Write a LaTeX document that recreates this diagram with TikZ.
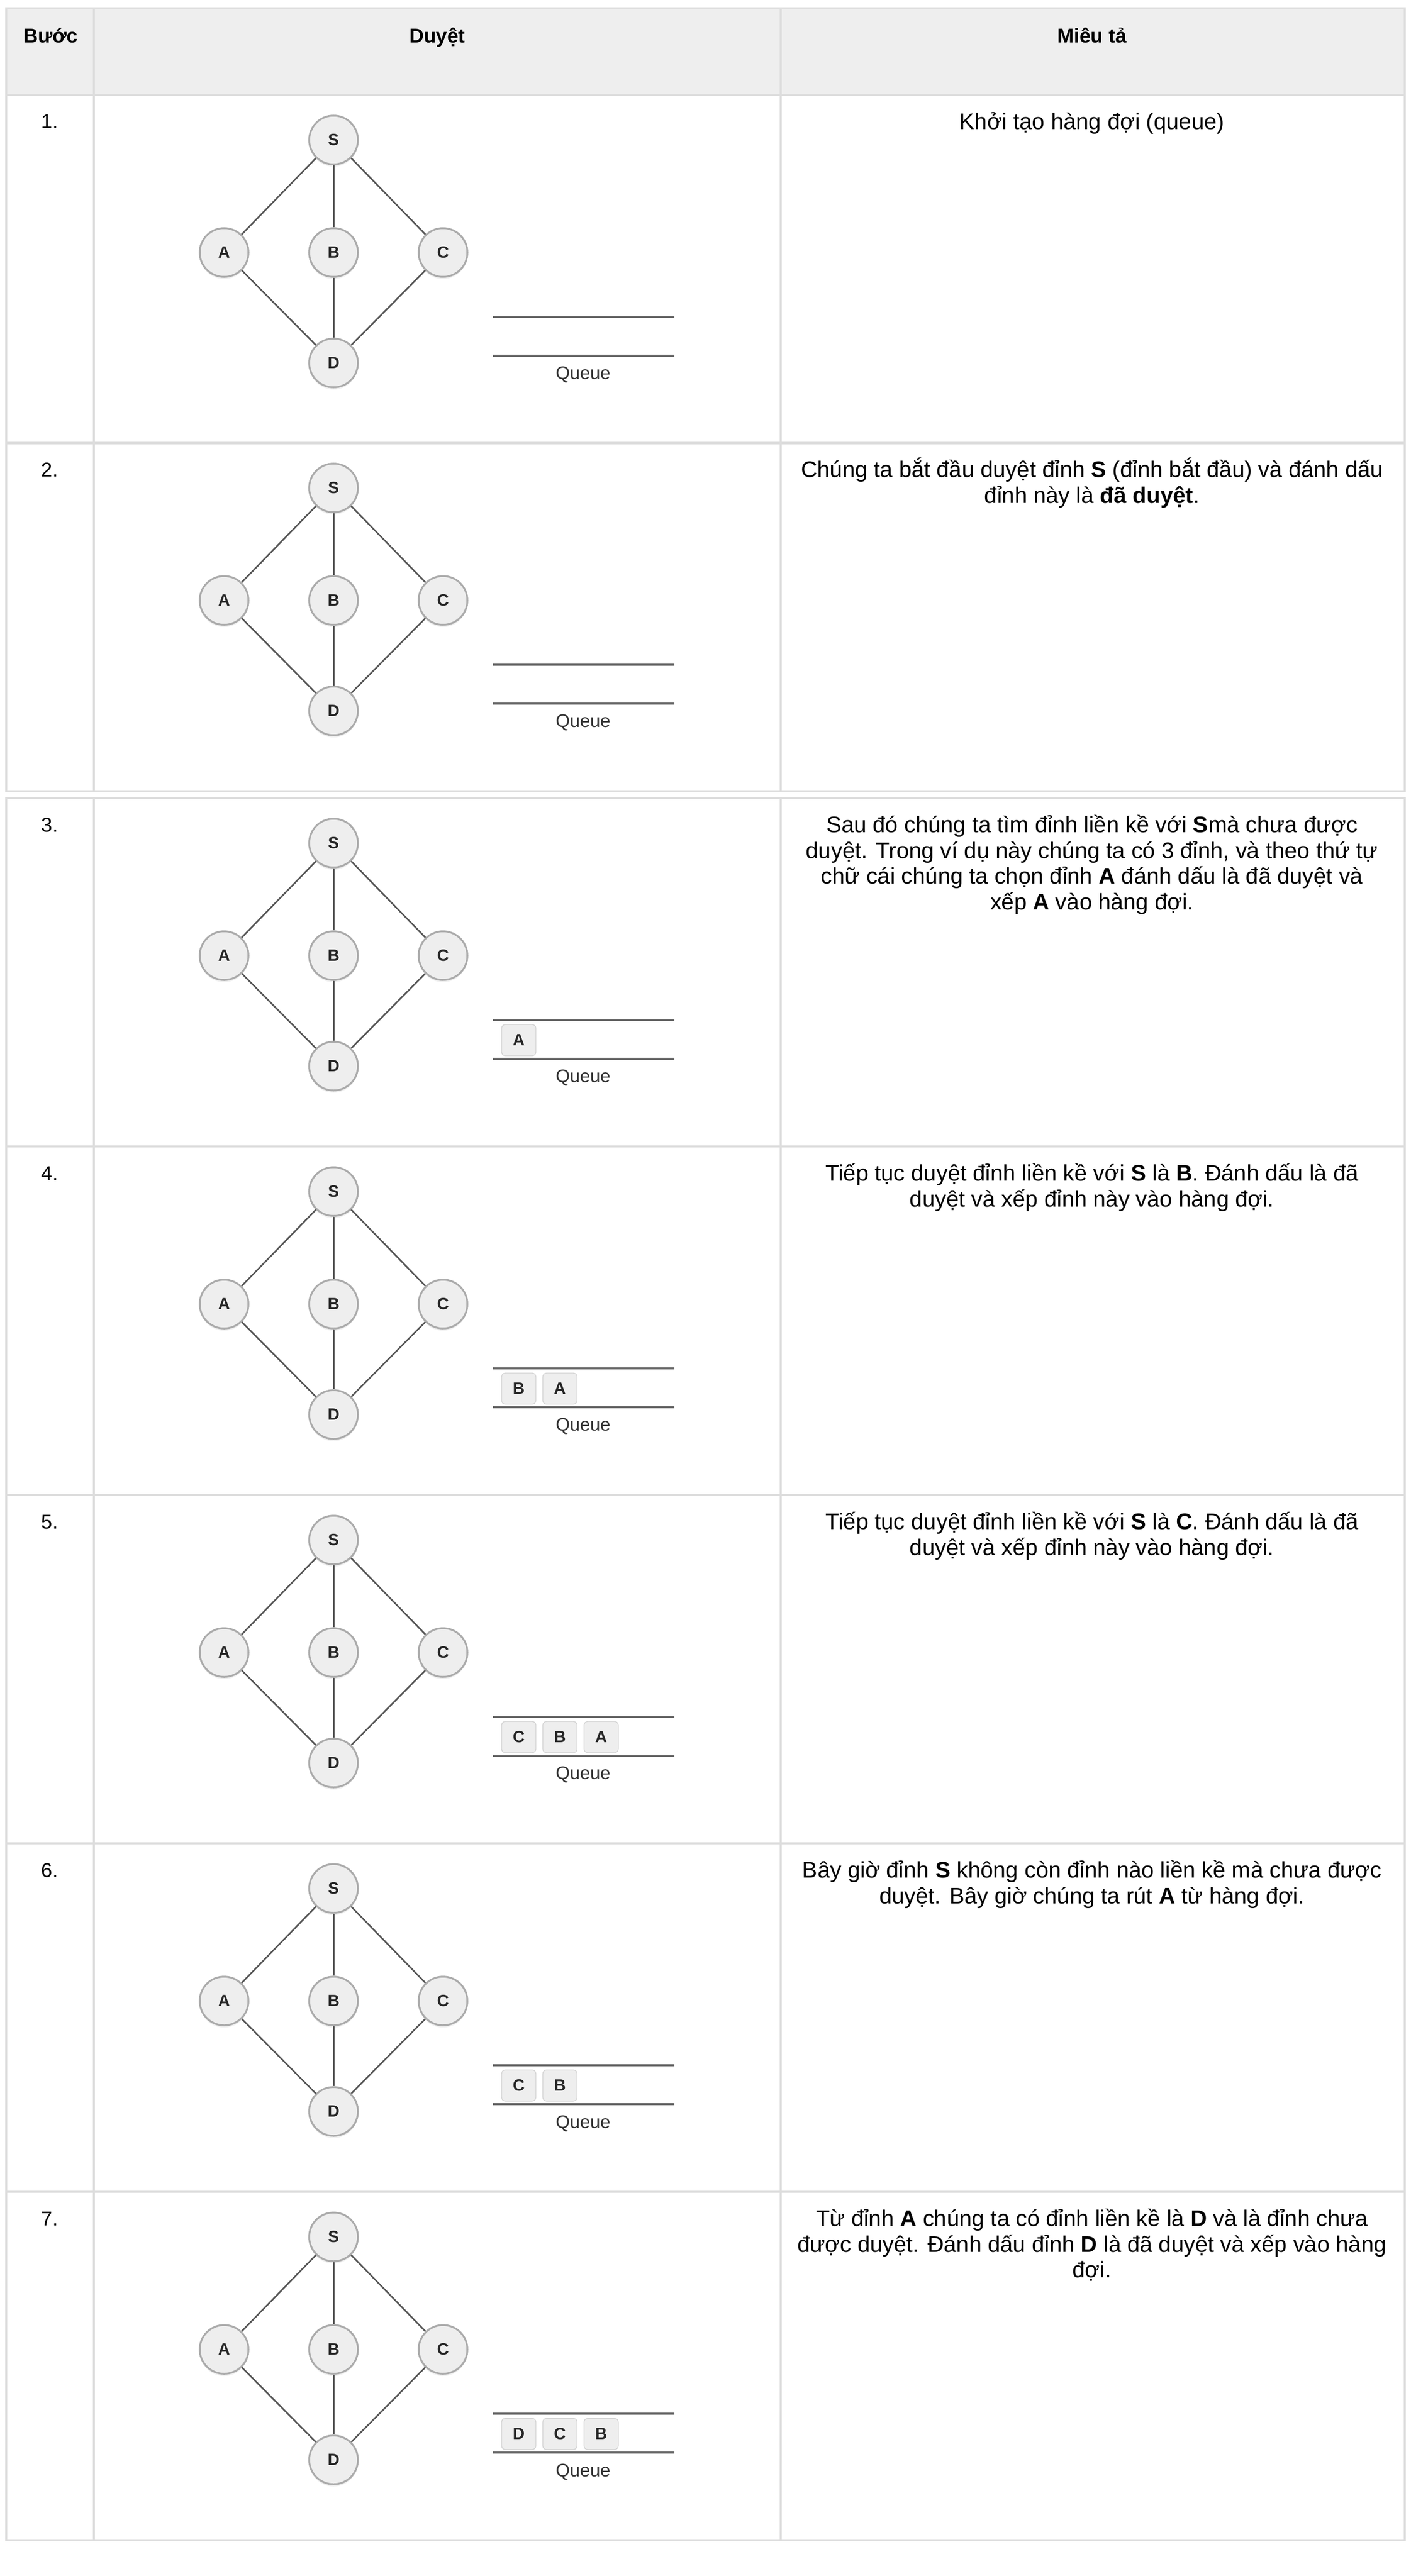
\documentclass[tikz,border=0pt]{standalone}
\usepackage{fontspec}
\setmainfont{Liberation Sans}
\usetikzlibrary{positioning, shadows}

\definecolor{gridgray}{HTML}{DDDDDD}
\definecolor{headgray}{HTML}{EEEEEE}
\definecolor{vertfill}{HTML}{EEEEEE}
\definecolor{vertline}{HTML}{ABABAB}
\definecolor{linkgray}{HTML}{555555}
\definecolor{boxline}{HTML}{D2D2D2}

\newcommand{\topstrut}{\rule{0pt}{12.5pt}}

\begin{document}
\begin{tikzpicture}[x=1cm, y=-1cm,
  cell/.style={draw=gridgray, line width=1pt},
  vert/.style={circle, draw=vertline, line width=1pt, fill=vertfill, minimum size=0.94cm, inner sep=0pt,
    font=\fontsize{9}{10}\selectfont\bfseries, text=black!85,
    drop shadow={opacity=0.12, shadow xshift=0pt, shadow yshift=-1.2pt}},
  link/.style={draw=linkgray, line width=0.85pt},
  qline/.style={draw=black!60, line width=1.1pt},
  qbox/.style={draw=boxline, fill=vertfill, rounded corners=2pt, minimum width=0.66cm, minimum height=0.60cm,
    inner sep=0pt, font=\fontsize{9}{10}\selectfont\bfseries, text=black!85},
  qtext/.style={font=\fontsize{10}{12}\selectfont, text=black!80},
  headtext/.style={font=\fontsize{11}{13}\selectfont\bfseries, anchor=base},
  stepnum/.style={font=\fontsize{11}{13}\selectfont, anchor=base},
  desc/.style={font=\fontsize{12.4}{14.1}\selectfont, align=center, anchor=north, inner sep=0pt}]

\fill[white] (0,0) rectangle (27.2,49.68);
\useasboundingbox (0,0) rectangle (27.2,49.68);

% header
\draw[cell, fill=headgray] (0.12,0.16) rectangle (1.81,1.83);
\draw[cell, fill=headgray] (1.81,0.16) rectangle (15.05,1.83);
\draw[cell, fill=headgray] (15.05,0.16) rectangle (27.08,1.83);
\node[headtext] (hstep) at (0.98,0.83) {Bước};
\node[headtext] (hwalk) at (8.43,0.83) {Duyệt};
\node[headtext] (hdesc) at (21.05,0.83) {Miêu tả};

% rows: cells, graph, empty queue
\foreach \r/\t in {1/1.83, 2/8.54, 3/15.39, 4/22.11, 5/28.83, 6/35.55, 7/42.27} {
  \draw[cell] (0.12,\t) rectangle (1.81,\t+6.72);
  \draw[cell] (1.81,\t) rectangle (15.05,\t+6.72);
  \draw[cell] (15.05,\t) rectangle (27.08,\t+6.72);
  \node[stepnum] (n\r) at (0.96,\t+0.65) {\r.};

  \node[vert] (S\r) at (6.43,\t+0.87) {S};
  \node[vert] (A\r) at (4.32,\t+3.04) {A};
  \node[vert] (B\r) at (6.43,\t+3.04) {B};
  \node[vert] (C\r) at (8.54,\t+3.04) {C};
  \node[vert] (D\r) at (6.43,\t+5.17) {D};
  \draw[link] (S\r) -- (A\r);
  \draw[link] (S\r) -- (B\r);
  \draw[link] (S\r) -- (C\r);
  \draw[link] (A\r) -- (D\r);
  \draw[link] (B\r) -- (D\r);
  \draw[link] (C\r) -- (D\r);

  \coordinate (qtl\r) at (9.50,\t+4.28);
  \coordinate (qtr\r) at (13.00,\t+4.28);
  \coordinate (qbl\r) at (9.50,\t+5.03);
  \coordinate (qbr\r) at (13.00,\t+5.03);
  \draw[qline] (qtl\r) -- (qtr\r);
  \draw[qline] (qbl\r) -- (qbr\r);
  \node[qtext] (ql\r) at (11.24,\t+5.40) {Queue};
}

% queue contents
\node[qbox] (q3a) at (10.00,15.39+4.67) {A};

\node[qbox] (q4b) at (10.00,22.11+4.67) {B};
\node[qbox, right=0.12cm of q4b] (q4a) {A};

\node[qbox] (q5c) at (10.00,28.83+4.67) {C};
\node[qbox, right=0.12cm of q5c] (q5b) {B};
\node[qbox, right=0.12cm of q5b] (q5a) {A};

\node[qbox] (q6c) at (10.00,35.55+4.67) {C};
\node[qbox, right=0.12cm of q6c] (q6b) {B};

\node[qbox] (q7d) at (10.00,42.27+4.67) {D};
\node[qbox, right=0.12cm of q7d] (q7c) {C};
\node[qbox, right=0.12cm of q7c] (q7b) {B};

% descriptions
\node[desc] (d1) at (21.05,1.83+0.22) {\topstrut Khởi tạo hàng đợi (queue)};
\node[desc] (d2) at (21.05,8.54+0.22) {\topstrut Chúng ta bắt đầu duyệt đỉnh \textbf{S} (đỉnh bắt đầu) và đánh dấu\\
  đỉnh này là \textbf{đã duyệt}.};
\node[desc] (d3) at (21.05,15.39+0.22) {\topstrut Sau đó chúng ta tìm đỉnh liền kề với \textbf{S}mà chưa được\\
  duyệt. Trong ví dụ này chúng ta có 3 đỉnh, và theo thứ tự\\
  chữ cái chúng ta chọn đỉnh \textbf{A} đánh dấu là đã duyệt và\\
  xếp \textbf{A} vào hàng đợi.};
\node[desc] (d4) at (21.05,22.11+0.22) {\topstrut Tiếp tục duyệt đỉnh liền kề với \textbf{S} là \textbf{B}. Đánh dấu là đã\\
  duyệt và xếp đỉnh này vào hàng đợi.};
\node[desc] (d5) at (21.05,28.83+0.22) {\topstrut Tiếp tục duyệt đỉnh liền kề với \textbf{S} là \textbf{C}. Đánh dấu là đã\\
  duyệt và xếp đỉnh này vào hàng đợi.};
\node[desc] (d6) at (21.05,35.55+0.22) {\topstrut Bây giờ đỉnh \textbf{S} không còn đỉnh nào liền kề mà chưa được\\
  duyệt. Bây giờ chúng ta rút \textbf{A} từ hàng đợi.};
\node[desc] (d7) at (21.05,42.27+0.22) {\topstrut Từ đỉnh \textbf{A} chúng ta có đỉnh liền kề là \textbf{D} và là đỉnh chưa\\
  được duyệt. Đánh dấu đỉnh \textbf{D} là đã duyệt và xếp vào hàng\\
  đợi.};
\end{tikzpicture}
\end{document}
